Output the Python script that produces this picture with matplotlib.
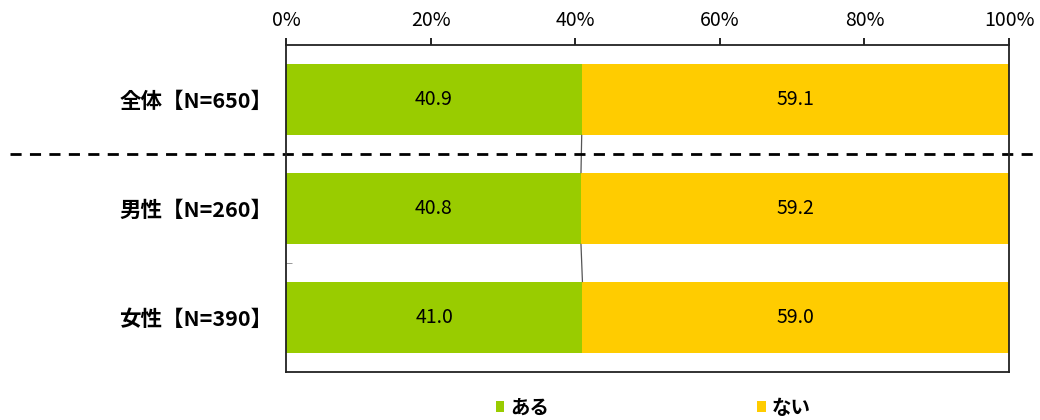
import matplotlib.pyplot as plt

plt.rcParams['font.family'] = ['Noto Sans CJK JP', 'DejaVu Sans']

# data
categories = ['全体【N=650】', '男性【N=260】', '女性【N=390】']
aru = [40.9, 40.8, 41.0]
nai = [59.1, 59.2, 59.0]
series_names = ['ある', 'ない']
colors = ['#99CC00', '#FFCC00']
xticks = [0, 20, 40, 60, 80, 100]

fig = plt.figure(figsize=(10.4, 4.2), dpi=100)
ax = fig.add_axes([286 / 1040, 1 - 372 / 420, (1009 - 286) / 1040, (372 - 45) / 420])

y = list(range(len(categories)))
bar_h = 0.66
ax.barh(y, aru, height=bar_h, color=colors[0], label=series_names[0])
ax.barh(y, nai, left=aru, height=bar_h, color=colors[1], label=series_names[1])

# value labels
for i in y:
    ax.text(aru[i] / 2, i, f'{aru[i]:.1f}', ha='center', va='center', fontsize=14)
    ax.text(aru[i] + nai[i] / 2, i, f'{nai[i]:.1f}', ha='center', va='center', fontsize=14)

# series lines between bars
for i in range(len(y) - 1):
    ax.plot([aru[i], aru[i + 1]], [i + bar_h / 2, i + 1 - bar_h / 2],
            color='#555555', lw=0.9)

ax.set_xlim(0, 100)
ax.set_ylim(len(categories) - 0.5, -0.5)
ax.xaxis.tick_top()
ax.set_xticks(xticks)
ax.set_xticklabels([f'{t}%' for t in xticks], fontsize=14)
ax.tick_params(axis='x', direction='out', length=5, width=1.2, pad=5)
ax.set_yticks(y)
ax.set_yticklabels(categories, fontsize=15.5, fontweight='bold')
ax.tick_params(axis='y', length=0, pad=10)
ax.set_yticks([0.5, 1.5], minor=True)
ax.tick_params(axis='y', which='minor', direction='in', length=4, color='#888888')
for s in ax.spines.values():
    s.set_linewidth(1.3)
    s.set_color('#222222')

# dashed separator below the total row
ax.plot([-276 / 723 * 100, 1040 / 723 * 100 - 286 / 723 * 100], [0.5, 0.5],
        color='black', lw=2, ls=(0, (4, 3)), clip_on=False)

leg = fig.legend(loc='center', bbox_to_anchor=(0.628, 1 - 408 / 420), ncol=2,
                 frameon=False, handlelength=0.45, handleheight=0.45,
                 handletextpad=0.3, columnspacing=10.7,
                 prop={'weight': 'bold', 'size': 14})

fig.savefig('out.png', dpi=100)
